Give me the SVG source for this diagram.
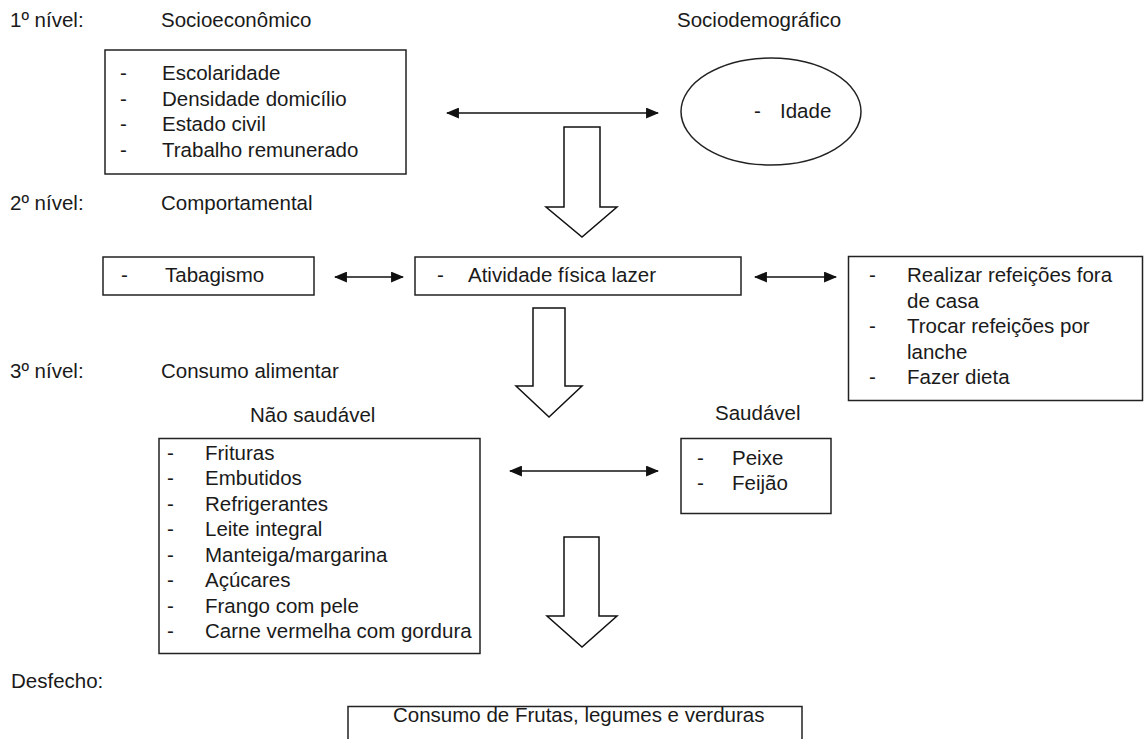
<svg xmlns="http://www.w3.org/2000/svg" width="1147" height="739" viewBox="0 0 1147 739">
<style>
text{font-family:"Liberation Sans",Arial,sans-serif;font-size:20.5px;fill:#1a1a1a}
.box{fill:#fff;stroke:#222;stroke-width:1.5}
.line{stroke:#111;stroke-width:1.6;fill:none}
.block{fill:#fff;stroke:#111;stroke-width:1.5;stroke-linejoin:miter}
</style>
<defs>
<marker id="ah" viewBox="0 0 12 10" refX="11" refY="5" markerWidth="13" markerHeight="11" markerUnits="userSpaceOnUse" orient="auto-start-reverse">
<path d="M0,0 L12,5 L0,10 Z" fill="#111"/>
</marker>
</defs>
<rect width="1147" height="739" fill="#fff"/>

<g id="labels">
<text x="10" y="27">1º nível:</text>
<text x="161" y="27">Socioeconômico</text>
<text x="677" y="27">Sociodemográfico</text>
<text x="10" y="210">2º nível:</text>
<text x="161" y="210">Comportamental</text>
<text x="10" y="378">3º nível:</text>
<text x="161" y="378">Consumo alimentar</text>
<text x="250" y="422">Não saudável</text>
<text x="715" y="420">Saudável</text>
<text x="11" y="688">Desfecho:</text>
</g>

<g id="connectors">
<line class="line" x1="447" y1="113" x2="658" y2="113" marker-start="url(#ah)" marker-end="url(#ah)"/>
<line class="line" x1="335" y1="277" x2="403" y2="277" marker-start="url(#ah)" marker-end="url(#ah)"/>
<line class="line" x1="755" y1="277" x2="836" y2="277" marker-start="url(#ah)" marker-end="url(#ah)"/>
<line class="line" x1="510" y1="471" x2="658" y2="471" marker-start="url(#ah)" marker-end="url(#ah)"/>
<polygon class="block" points="564,127 600,127 600,207 617,207 582,237 546,207 564,207"/>
<polygon class="block" points="533,308 565,308 565,386 582,386 549,417 516,386 533,386"/>
<polygon class="block" points="564,537 599,537 599,616 617,616 582,647 547,616 564,616"/>
</g>

<g id="node-socioeconomico">
<rect class="box" x="105" y="50" width="301" height="124"/>
<text x="120" y="80">-</text><text x="162" y="80">Escolaridade</text>
<text x="120" y="105.5">-</text><text x="162" y="105.5">Densidade domicílio</text>
<text x="120" y="131">-</text><text x="162" y="131">Estado civil</text>
<text x="120" y="156.5">-</text><text x="162" y="156.5">Trabalho remunerado</text>
</g>

<g id="node-idade">
<ellipse class="box" cx="771" cy="111.5" rx="90" ry="53.5"/>
<text x="754" y="118">-</text><text x="780" y="118">Idade</text>
</g>

<g id="node-tabagismo">
<rect class="box" x="103" y="257" width="211" height="38"/>
<text x="121" y="282">-</text><text x="165" y="282">Tabagismo</text>
</g>

<g id="node-atividade">
<rect class="box" x="415" y="257" width="326" height="38"/>
<text x="437" y="282">-</text><text x="468" y="282">Atividade física lazer</text>
</g>

<g id="node-refeicoes">
<rect class="box" x="848.5" y="256.5" width="294" height="144"/>
<text x="869" y="282">-</text><text x="907" y="282">Realizar refeições fora</text>
<text x="907" y="307.5">de casa</text>
<text x="869" y="333">-</text><text x="907" y="333">Trocar refeições por</text>
<text x="907" y="358.5">lanche</text>
<text x="869" y="383.5">-</text><text x="907" y="383.5">Fazer dieta</text>
</g>

<g id="node-naosaudavel">
<rect class="box" x="159" y="438.5" width="321" height="215"/>
<text x="167" y="459.5">-</text><text x="205" y="459.5">Frituras</text>
<text x="167" y="485">-</text><text x="205" y="485">Embutidos</text>
<text x="167" y="510.5">-</text><text x="205" y="510.5">Refrigerantes</text>
<text x="167" y="536">-</text><text x="205" y="536">Leite integral</text>
<text x="167" y="561.5">-</text><text x="205" y="561.5">Manteiga/margarina</text>
<text x="167" y="587">-</text><text x="205" y="587">Açúcares</text>
<text x="167" y="612.5">-</text><text x="205" y="612.5">Frango com pele</text>
<text x="167" y="638">-</text><text x="205" y="638">Carne vermelha com gordura</text>
</g>

<g id="node-saudavel">
<rect class="box" x="681" y="438.5" width="150" height="75"/>
<text x="697" y="465">-</text><text x="732" y="465">Peixe</text>
<text x="697" y="490">-</text><text x="732" y="490">Feijão</text>
</g>

<g id="node-desfecho">
<rect class="box" x="348" y="706.5" width="454" height="50"/>
<text x="393" y="722">Consumo de Frutas, legumes e verduras</text>
</g>
</svg>
